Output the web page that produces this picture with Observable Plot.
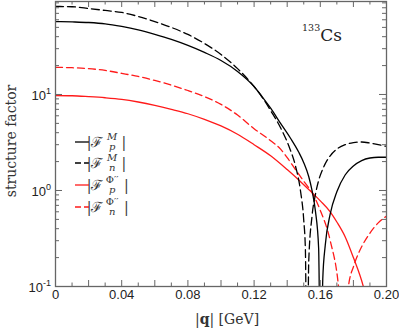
<!DOCTYPE html>
<html>
<head>
<meta charset="utf-8">
<script src="https://cdn.jsdelivr.net/npm/d3@7"></script>
<script src="https://cdn.jsdelivr.net/npm/@observablehq/plot@0.6"></script>
<style>
  html, body { margin: 0; padding: 0; background: #fff; }
  #chart { position: relative; width: 399px; height: 329px; }
</style>
</head>
<body>
<div id="chart"></div>
<script>
// |F_p^M| (black solid)
const qFpM = [0, 0.01, 0.02, 0.03, 0.04, 0.05, 0.06, 0.07, 0.08, 0.09, 0.10, 0.11, 0.12, 0.125, 0.13, 0.136, 0.142, 0.147, 0.150, 0.153, 0.155, 0.157, 0.159, 0.1603, 0.1615, 0.163, 0.166, 0.170, 0.175, 0.18, 0.185, 0.19, 0.195, 0.2];
const vFpM = [57.5, 57, 56.2, 54.5, 51.1, 47, 42.2, 37.4, 32.4, 27.4, 22.6, 17.4, 12.1, 9.4, 7.2, 5.0, 3.5, 2.5, 1.95, 1.4, 1.0, 0.62, 0.25, 0.005, 0.12, 0.27, 0.57, 0.97, 1.45, 1.8, 2.05, 2.18, 2.22, 2.22];
// |F_n^M| (black dashed)
const qFnM = [0, 0.01, 0.02, 0.03, 0.04, 0.05, 0.06, 0.07, 0.08, 0.09, 0.10, 0.11, 0.12, 0.125, 0.13, 0.136, 0.141, 0.145, 0.148, 0.150, 0.151, 0.152, 0.153, 0.155, 0.157, 0.159, 0.162, 0.166, 0.170, 0.175, 0.18, 0.185, 0.19, 0.195, 0.2];
const vFnM = [82.6, 82, 78.7, 75, 71.5, 65, 57.5, 49.9, 42.2, 34, 26.1, 18.6, 12.1, 9.3, 6.8, 4.5, 2.9, 1.8, 1.0, 0.49, 0.24, 0.005, 0.18, 0.54, 0.9, 1.27, 1.75, 2.3, 2.7, 3.0, 3.15, 3.2, 3.12, 3.0, 2.88];
// |F_p^Phi''| (red solid)
const qFpP = [0, 0.01, 0.02, 0.03, 0.04, 0.05, 0.06, 0.07, 0.08, 0.09, 0.10, 0.11, 0.12, 0.13, 0.14, 0.15, 0.155, 0.16, 0.166, 0.17, 0.175, 0.18, 0.186, 0.19, 0.195];
const vFpP = [9.75, 9.7, 9.5, 9.25, 8.9, 8.35, 7.7, 7.0, 6.3, 5.5, 4.7, 3.85, 3.0, 2.3, 1.65, 1.15, 0.95, 0.78, 0.6, 0.47, 0.33, 0.2, 0.1, 0.05, 0.02];
// |F_n^Phi''| (red dashed)
const qFnP = [0, 0.01, 0.02, 0.03, 0.04, 0.05, 0.06, 0.07, 0.08, 0.09, 0.10, 0.11, 0.12, 0.13, 0.136, 0.14, 0.145, 0.15, 0.155, 0.16, 0.166, 0.171, 0.173, 0.1745, 0.176, 0.177, 0.18, 0.182, 0.186, 0.19, 0.195, 0.2];
const vFnP = [19.2, 19.0, 18.6, 17.8, 16.6, 15.4, 14.0, 12.5, 11.0, 9.5, 7.9, 6.1, 4.4, 3.3, 2.7, 2.2, 1.65, 1.25, 0.95, 0.62, 0.3, 0.1, 0.04, 0.003, 0.05, 0.1, 0.16, 0.2, 0.28, 0.36, 0.46, 0.54];

const xMajorTicks = [0, 0.02, 0.04, 0.06, 0.08, 0.10, 0.12, 0.14, 0.16, 0.18, 0.20];
const xMinorTicks = [0.01, 0.03, 0.05, 0.07, 0.09, 0.11, 0.13, 0.15, 0.17, 0.19];
const xTickLabels = [0, 0.04, 0.08, 0.12, 0.16, 0.20];
const yMajorTicks = [0.1, 1, 10];
const yMinorTicks = [0.2,0.3,0.4,0.5,0.6,0.7,0.8,0.9,2,3,4,5,6,7,8,9,20,30,40,50,60,70,80,90];
const yTickExponents = ["-1", "0", "1"];

const legendSubs = ["p", "n", "p", "n"];
const legendSups = ["M", "M", "Φ′′", "Φ′′"];

const pts = (qs, vs) => qs.map((q, i) => ({q, v: vs[i]}));

const W = 399, H = 329;
const mL = 55, mR = 13, mT = 1, mB = 43;
const fw = W - mL - mR, fh = H - mT - mB;

const lineOpts = {x: "q", y: "v", curve: "monotone-x", clip: true, strokeWidth: 1.3};

const chart = Plot.plot({
  width: W, height: H,
  marginLeft: mL, marginRight: mR, marginTop: mT, marginBottom: mB,
  style: {background: "#fff", fontFamily: "Liberation Sans, Arial, sans-serif"},
  x: {domain: [0, 0.2], axis: null},
  y: {type: "log", domain: [0.1, 93], axis: null},
  marks: [
    Plot.line(pts(qFpP, vFpP), {...lineOpts, stroke: "#ff1a1a"}),
    Plot.line(pts(qFnP, vFnP), {...lineOpts, stroke: "#ff1a1a", strokeDasharray: "7,4"}),
    Plot.line(pts(qFpM, vFpM), {...lineOpts, stroke: "#000"}),
    Plot.line(pts(qFnM, vFnM), {...lineOpts, stroke: "#000", strokeDasharray: "8,4"}),
    // inward ticks
    Plot.tickX(xMajorTicks, {x: d => d, insetTop: fh - 6, stroke: "#666"}),
    Plot.tickX(xMajorTicks, {x: d => d, insetBottom: fh - 6, stroke: "#666"}),
    Plot.tickX(xMinorTicks, {x: d => d, insetTop: fh - 3.5, stroke: "#666"}),
    Plot.tickX(xMinorTicks, {x: d => d, insetBottom: fh - 3.5, stroke: "#666"}),
    Plot.tickY(yMajorTicks, {y: d => d, insetRight: fw - 7, stroke: "#666"}),
    Plot.tickY(yMajorTicks, {y: d => d, insetLeft: fw - 7, stroke: "#666"}),
    Plot.tickY(yMinorTicks, {y: d => d, insetRight: fw - 4, stroke: "#666"}),
    Plot.tickY(yMinorTicks, {y: d => d, insetLeft: fw - 4, stroke: "#666"}),
    Plot.frame({stroke: "#666", strokeWidth: 1.3}),
    Plot.text(xTickLabels, {
      x: d => d, frameAnchor: "bottom", dy: 12,
      text: d => d === 0 ? "0" : d.toFixed(2),
      fontSize: 13, fill: "#222"
    })
  ]
});

document.getElementById("chart").appendChild(chart);

const svg = d3.select(chart);
const ys = chart.scale("y");

// y tick labels with superscripts
yMajorTicks.forEach((v, i) => {
  const py = ys.apply(v);
  const t = svg.append("text")
    .attr("x", 51).attr("y", py + 6)
    .attr("text-anchor", "end")
    .attr("font-family", "Liberation Sans, Arial, sans-serif")
    .attr("font-size", 13).attr("fill", "#222");
  t.append("tspan").text("10");
  t.append("tspan").attr("dy", -6).attr("font-size", 9).text(yTickExponents[i]);
});

// axis titles
svg.append("text")
  .attr("x", 227).attr("y", 324)
  .attr("text-anchor", "middle")
  .attr("font-family", "DejaVu Serif, serif")
  .attr("font-size", 14).attr("fill", "#333")
  .call(t => {
    t.append("tspan").text("|");
    t.append("tspan").attr("font-weight", "bold").text("q");
    t.append("tspan").text("| [GeV]");
  });

svg.append("text")
  .attr("transform", "translate(16,141) rotate(-90)")
  .attr("text-anchor", "middle")
  .attr("font-family", "DejaVu Serif, serif")
  .attr("font-size", 14).attr("fill", "#333")
  .text("structure factor");

// nucleus annotation
svg.append("text")
  .attr("x", 322).attr("y", 41)
  .attr("font-family", "DejaVu Serif, serif")
  .attr("fill", "#222")
  .call(t => {
    t.append("tspan").attr("font-size", 9.5).attr("dy", -10).text("133");
    t.append("tspan").attr("font-size", 17).attr("dy", 10).text("Cs");
  });

// legend
const legendStyles = [
  {stroke: "#000", dash: null},
  {stroke: "#000", dash: "6,3"},
  {stroke: "#ff1a1a", dash: null},
  {stroke: "#ff1a1a", dash: "6,3"}
];
const rowY = [142, 163, 185, 207];
const lg = svg.append("g").attr("font-family", "DejaVu Serif, serif").attr("fill", "#333");
legendStyles.forEach((s, i) => {
  const y = rowY[i];
  lg.append("line").attr("x1", 75).attr("x2", 89).attr("y1", y).attr("y2", y)
    .attr("stroke", s.stroke).attr("stroke-width", 1.3)
    .attr("stroke-dasharray", s.dash);
  const head = lg.append("text").attr("x", 95).attr("y", y + 5).attr("font-size", 14).text("|ℱ");
  const hx = 95 + head.node().getComputedTextLength() + 0.5;
  lg.append("text").attr("x", hx).attr("y", y + 8).attr("font-size", 10)
    .attr("font-style", "italic").text(legendSubs[i]);
  const sup = lg.append("text").attr("x", hx).attr("y", y - 2).attr("font-size", 10)
    .attr("font-style", legendSups[i] === "M" ? "italic" : "normal").text(legendSups[i]);
  const supW = sup.node().getComputedTextLength();
  lg.append("text").attr("x", hx + Math.max(supW, 6) + 1.5).attr("y", y + 5)
    .attr("font-size", 14).text("|");
});
</script>
</body>
</html>
